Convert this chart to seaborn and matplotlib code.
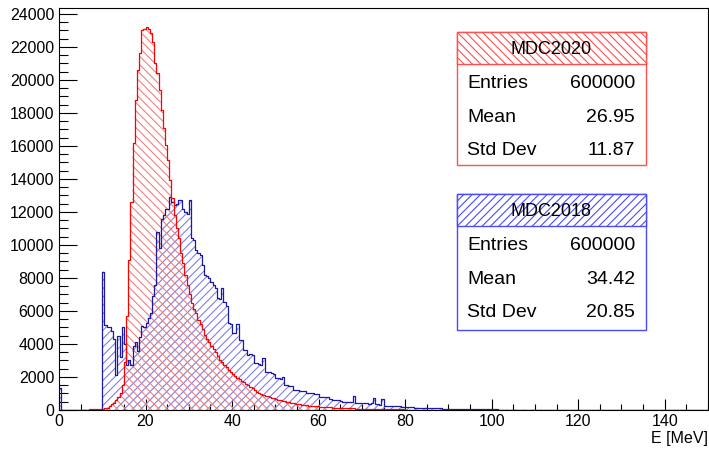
import numpy as np
import pandas as pd
import matplotlib
matplotlib.use("Agg")
import matplotlib.pyplot as plt
import seaborn as sns
from matplotlib.ticker import MultipleLocator
from matplotlib.patches import Rectangle

# ---------------- data (counts per 0.5 MeV bin, starting at E = 0) ----------------
bin_width = 0.5
x_range = (0, 150)

mdc2020_counts = [
    0, 0, 0, 0, 0, 0, 0, 0, 0, 0,
    20, 25, 30, 30, 35, 40, 45, 50, 50, 55,
    60, 100, 150, 250, 350, 450, 600, 800, 1000, 1500,
    2900, 5700, 9100, 12600, 16150, 18800, 20600, 21640, 23030, 23100,
    23200, 23100, 22870, 22320, 21030, 20400, 19390, 18180, 17090, 16060,
    15150, 13940, 12850, 11800, 11000, 10400, 9500, 8900, 8200, 7600,
    7000, 6500, 6150, 5850, 5450, 5200, 4900, 4550, 4300, 4100,
    3900, 3700, 3500, 3250, 3050, 2900, 2730, 2600, 2450, 2320,
    2200, 2050, 1940, 1850, 1750, 1680, 1600, 1500, 1400, 1330,
    1200, 1100, 1030, 980, 920, 870, 820, 780, 740, 700,
    660, 620, 580, 550, 520, 490, 460, 440, 410, 390,
    370, 350, 330, 310, 290, 270, 255, 240, 230, 215,
    200, 190, 180, 175, 165, 160, 150, 145, 140, 130,
    125, 120, 115, 110, 105, 100, 95, 90, 85, 80,
    75, 72, 70, 67, 65, 62, 60, 57, 55, 52,
    50, 48, 46, 44, 42, 40, 38, 36, 34, 32,
    30, 29, 28, 27, 26, 25, 24, 23, 22, 21,
    20, 19, 18, 17, 16, 15, 14, 13, 12, 11,
    10, 10, 9, 9, 8, 8, 7, 7, 6, 6,
    5, 5, 5, 4, 4, 4, 3, 3, 3, 3,
]

mdc2018_counts = [
    1350, 0, 0, 0, 0, 0, 0, 0, 0, 0,
    0, 0, 0, 0, 0, 0, 0, 0, 0, 0,
    8380, 5150, 5050, 5000, 4800, 4300, 2100, 4500, 3200, 5000,
    4000, 2700, 3000, 2700, 3900, 4100, 3600, 4400, 5100, 5000,
    5300, 5600, 5900, 6900, 7600, 10800, 9800, 11600, 11800, 12200,
    12200, 12930, 12630, 12400, 12500, 12750, 12750, 12200, 12000, 11900,
    12700, 10400, 10300, 9700, 9500, 9400, 8800, 8200, 8100, 8000,
    7780, 7600, 7400, 6800, 6750, 7400, 6560, 6300, 5270, 5200,
    4650, 4650, 5200, 4240, 4240, 3640, 3640, 3330, 3400, 3330,
    2830, 2830, 2800, 2700, 3150, 2320, 2320, 2300, 2250, 2200,
    1940, 1940, 1900, 2000, 1510, 1510, 1480, 1450, 1210, 1210,
    1200, 1180, 1150, 1130, 1030, 1030, 1020, 1000, 980, 950,
    790, 790, 780, 770, 760, 650, 620, 600, 600, 580,
    520, 500, 500, 490, 500, 480, 850, 440, 440, 430,
    420, 400, 400, 390, 400, 730, 350, 340, 330, 640,
    260, 250, 240, 240, 230, 230, 220, 220, 210, 170,
    170, 160, 160, 160, 150, 150, 150, 140, 140, 140,
    110, 100, 100, 100, 100, 95, 95, 90, 90, 90,
    70, 65, 65, 60, 60, 60, 55, 55, 55, 50,
    50, 50, 50, 45, 45, 45, 40, 40, 40, 40,
    35, 35, 35, 30, 30, 30, 30, 25, 25, 25,
    25, 20, 20, 20, 20, 15, 15, 15, 15, 15,
    12, 12, 10, 10, 10, 10, 8, 8, 8, 8,
    6, 6, 6, 5, 5, 5, 5, 5, 5, 5,
]

y_ticks = list(range(0, 24001, 2000))
x_ticks = list(range(0, 141, 20))

stats = {
    "MDC2020": {"Entries": "600000", "Mean": "26.95", "Std Dev": "11.87"},
    "MDC2018": {"Entries": "600000", "Mean": "34.42", "Std Dev": "20.85"},
}

# ---------------- style ----------------
sns.set_theme(style="white")
plt.rcParams["font.family"] = ["Liberation Sans", "DejaVu Sans"]
plt.rcParams["hatch.linewidth"] = 0.8
plt.rcParams["text.color"] = "black"
plt.rcParams["xtick.color"] = "black"
plt.rcParams["ytick.color"] = "black"
plt.rcParams["axes.edgecolor"] = "black"

W, H = 709, 449
fig = plt.figure(figsize=(W / 100, H / 100), dpi=100)
ax = fig.add_axes([59 / W, 39 / H, 649 / W, 402 / H])


def frame(counts):
    centers = np.arange(len(counts)) * bin_width + bin_width / 2
    return pd.DataFrame({"E": centers, "w": counts})


df18 = frame(mdc2018_counts)
df20 = frame(mdc2020_counts)

red_line, red_hatch = "#ff0000", "#f08080"
blue_line, blue_hatch = "#1a1aa8", "#8080e6"

hist_kw = dict(x="E", weights="w", binwidth=bin_width, binrange=x_range,
               element="step", ax=ax)


def hatched(df, hatch, hcolor):
    n = len(ax.collections)
    sns.histplot(data=df, fill=True, alpha=1, **hist_kw)
    for c in ax.collections[n:]:
        c.set_facecolor("none")
        c.set_edgecolor(hcolor)
        c.set_hatch(hatch)
        c.set_linewidth(0)


hatched(df18, "////", blue_hatch)
hatched(df20, "\\\\\\\\", red_hatch)
sns.histplot(data=df18, fill=False, color=blue_line, linewidth=0.9, **hist_kw)
sns.histplot(data=df20, fill=False, color=red_line, linewidth=0.9, **hist_kw)

ax.set_xlim(*x_range)
ax.set_ylim(0, 24360)
ax.set_xticks(x_ticks)
ax.set_yticks(y_ticks)
ax.xaxis.set_minor_locator(MultipleLocator(5))
ax.yaxis.set_minor_locator(MultipleLocator(500))
ax.tick_params(axis="both", which="both", direction="in", top=False, right=False,
               bottom=True, left=True, colors="black", labelcolor="black",
               labelsize=11.5, width=0.8)
ax.tick_params(axis="y", which="major", length=13, pad=3.5)
ax.tick_params(axis="y", which="minor", length=6.5)
ax.tick_params(axis="x", which="major", length=8, pad=3)
ax.tick_params(axis="x", which="minor", length=4)
ax.set_xlabel("")
ax.set_ylabel("")
for s in ax.spines.values():
    s.set_visible(True)
    s.set_color("black")
    s.set_linewidth(0.8)

fig.text(708 / W, 1 - 438 / H, "E [MeV]", ha="right", va="center", fontsize=11.5,
         color="black")


def fx(x):
    return x / W


def fy(y):
    return 1 - y / H


def stat_box(name, top, bottom, header_bottom, rows_y, color, hatch):
    left, right = 457, 646
    fig.patches.append(Rectangle((fx(left), fy(bottom)), fx(right) - fx(left),
                                 fy(top) - fy(bottom), transform=fig.transFigure,
                                 facecolor="white", edgecolor=color, linewidth=1.0,
                                 zorder=5))
    fig.patches.append(Rectangle((fx(left), fy(header_bottom)), fx(right) - fx(left),
                                 fy(top) - fy(header_bottom), transform=fig.transFigure,
                                 facecolor="white", edgecolor=color, linewidth=1.0,
                                 hatch=hatch, zorder=6))
    fig.text(fx((left + right) / 2), fy(top + 22), name, ha="center", va="baseline",
             fontsize=13, color="black", zorder=7)
    for (label, value), yb in zip(stats[name].items(), rows_y):
        fig.text(fx(467), fy(yb), label, ha="left", va="baseline", fontsize=14,
                 color="black", zorder=7)
        fig.text(fx(635), fy(yb), value, ha="right", va="baseline", fontsize=14,
                 color="black", zorder=7)


stat_box("MDC2020", 32, 165, 64, [88, 122, 155], "#ff5050", "\\\\\\\\")
stat_box("MDC2018", 194, 330, 226, [250, 284, 317], "#4a4aff", "////")

fig.savefig("out.png", dpi=100)
